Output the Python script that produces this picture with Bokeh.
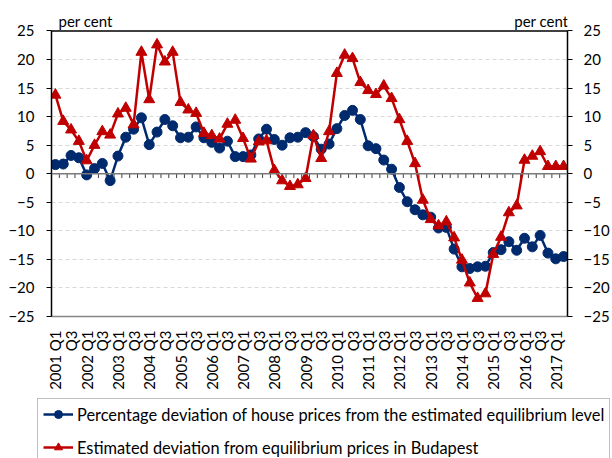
import math
from bokeh.plotting import figure
from bokeh.models import Range1d, LinearAxis, FixedTicker, Span, Legend, LegendItem, Label
from bokeh.embed import file_html
from bokeh.resources import INLINE

years = list(range(2001, 2018))
y_ticks = [-25, -20, -15, -10, -5, 0, 5, 10, 15, 20, 25]

house_dev = [1.6, 1.7, 3.2, 2.8, -0.2, 0.9, 1.8, -1.2, 3.1, 6.4,
             7.8, 9.8, 5.1, 7.3, 9.5, 8.4, 6.3, 6.4, 8.2, 6.3,
             5.5, 4.5, 5.7, 3.0, 3.0, 3.3, 6.1, 7.8, 6.0, 5.0,
             6.3, 6.4, 7.2, 6.5, 4.3, 5.2, 7.9, 10.2, 11.1, 9.5,
             4.9, 4.4, 2.4, 0.8, -2.4, -4.9, -6.3, -7.2, -7.6, -9.5,
             -9.4, -13.2, -16.3, -16.6, -16.3, -16.2, -13.8, -13.3, -11.9, -13.4,
             -11.3, -12.8, -10.8, -13.9, -14.9, -14.5]

budapest_dev = [13.8, 9.2, 7.7, 5.7, 2.3, 5.0, 7.4, 6.8, 10.5, 11.5,
                8.6, 21.3, 13.0, 22.6, 19.6, 21.3, 12.5, 11.2, 10.6, 7.1,
                6.7, 6.1, 8.7, 9.4, 6.2, 2.6, 5.6, 5.8, 0.6, -1.2,
                -2.2, -1.9, -0.8, 6.7, 2.7, 7.4, 17.6, 20.8, 20.2, 16.0,
                14.6, 13.9, 15.4, 13.2, 9.5, 5.7, 1.8, -4.6, -8.0, -9.1,
                -8.4, -11.2, -15.1, -19.1, -21.8, -21.0, -14.1, -11.1, -6.8, -5.6,
                2.4, 3.1, 3.9, 1.3, 1.3, 1.3]

label_house = "Percentage deviation of house prices from the estimated equilibrium level"
label_budapest = "Estimated deviation from equilibrium prices in Budapest"
unit_label = "per cent"

n = len(house_dev)
xs = list(range(n))
x_tick_pos = list(range(0, n, 2))
x_tick_labels = {}
for t in x_tick_pos:
    if t % 4 == 0:
        x_tick_labels[t] = f"{years[t // 4]} Q1"
    else:
        x_tick_labels[t] = "Q3"

FONT = "Lato"
BLUE = "#002a6e"
RED = "#c00000"
Y_TOP = 28.59  # headroom above the 25 line for the unit labels

p = figure(width=612, height=395, x_range=Range1d(-0.5, n - 0.5), y_range=Range1d(-25, Y_TOP),
           output_backend="svg", toolbar_location=None,
           min_border_left=51, min_border_right=38, min_border_top=10, min_border_bottom=79,
           x_axis_location=None, y_axis_location=None)
p.outline_line_color = None
p.background_fill_color = "white"
p.border_fill_color = "white"

# grid
p.xgrid.visible = False
p.ygrid.ticker = FixedTicker(ticks=y_ticks[1:-1])
p.ygrid.grid_line_color = "#d9d9d9"
p.ygrid.grid_line_dash = "4 3"
p.ygrid.grid_line_width = 1

# bottom axis (category labels)
xaxis = LinearAxis(ticker=FixedTicker(ticks=x_tick_pos), major_label_overrides=x_tick_labels)
xaxis.major_label_orientation = math.pi / 2
xaxis.axis_line_color = "#868686"
xaxis.axis_line_width = 1.5
xaxis.major_tick_out = 0
xaxis.major_tick_in = 0
xaxis.minor_tick_out = 0
xaxis.minor_tick_in = 0
xaxis.major_label_standoff = 14
xaxis.major_label_text_font = FONT
xaxis.major_label_text_font_size = "15px"
xaxis.major_label_text_color = "black"
p.add_layout(xaxis, "below")

# left and right axes
for side in ("left", "right"):
    ax = LinearAxis(ticker=FixedTicker(ticks=y_ticks), bounds=(-25, 25))
    ax.axis_line_color = "black"
    ax.axis_line_width = 1.5
    ax.major_tick_out = 5
    ax.major_tick_in = 0
    ax.minor_tick_out = 0
    ax.minor_tick_in = 0
    ax.major_tick_line_color = "black"
    ax.major_label_standoff = 12 if side == "left" else 11
    ax.major_label_text_font = FONT
    ax.major_label_text_font_size = "15px"
    ax.major_label_text_color = "black"
    p.add_layout(ax, side)

# top border
p.add_layout(Span(location=25, dimension="width", line_color="black", line_width=1.5))
# zero line with quarter ticks
p.add_layout(Span(location=0, dimension="width", line_color="#7a7a7a", line_width=1.5))
bounds = [i + 0.5 for i in range(n - 1)]
p.segment(x0=bounds, y0=[0] * len(bounds), x1=bounds, y1=[-0.75] * len(bounds),
          line_color="#404040", line_width=1)

# per cent labels
p.add_layout(Label(x=-0.5, y=25, x_offset=7, y_offset=1, text=unit_label, text_font=FONT,
                   text_font_size="15px", text_baseline="bottom", text_color="black"))
p.add_layout(Label(x=n - 0.5, y=25, x_offset=1, y_offset=1, text=unit_label, text_font=FONT,
                   text_font_size="15px", text_baseline="bottom", text_align="right",
                   text_color="black"))

# series
p.line(xs, house_dev, line_color=BLUE, line_width=2.5)
p.scatter(xs, house_dev, marker="circle", size=10, fill_color=BLUE, line_color=BLUE)
p.line(xs, budapest_dev, line_color=RED, line_width=2.5)
p.scatter(xs, budapest_dev, marker="triangle", size=11, fill_color=RED, line_color=RED)

# legend strip below the chart (its renderers hold the series but lie outside its view)
lg = figure(width=612, height=63, x_range=Range1d(1000, 1001), y_range=Range1d(1000, 1001),
            output_backend="svg", toolbar_location=None,
            min_border_left=0, min_border_right=0, min_border_top=0, min_border_bottom=0,
            x_axis_location=None, y_axis_location=None)
lg.outline_line_color = None
lg.xgrid.visible = False
lg.ygrid.visible = False
bl = lg.line(xs, house_dev, line_color=BLUE, line_width=2.5)
bm = lg.scatter(xs, house_dev, marker="circle", size=10, fill_color=BLUE, line_color=BLUE)
rl = lg.line(xs, budapest_dev, line_color=RED, line_width=2.5)
rm = lg.scatter(xs, budapest_dev, marker="triangle", size=11, fill_color=RED, line_color=RED)

legend = Legend(items=[LegendItem(label=label_house, renderers=[bl, bm]),
                       LegendItem(label=label_budapest, renderers=[rl, rm])],
                location=(37, -5))
legend.label_text_font = FONT
legend.label_text_font_size = "16.4px"
legend.label_text_color = "black"
legend.glyph_width = 30
legend.glyph_height = 20
legend.label_height = 20
legend.label_standoff = 4
legend.spacing = 13
legend.padding = 5
legend.margin = 0
legend.border_line_color = "#7f7f7f"
legend.border_line_width = 1
legend.background_fill_alpha = 1
lg.add_layout(legend, "center")

open("out.html", "w").write(file_html([p, lg], INLINE))
